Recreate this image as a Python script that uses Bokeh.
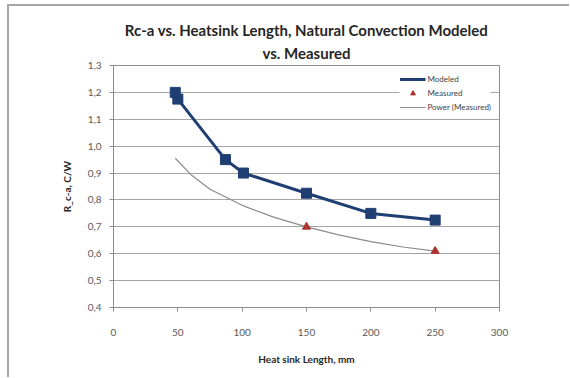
from bokeh.plotting import figure
from bokeh.models import FixedTicker, Range1d, Legend, LegendItem, Title
from bokeh.embed import file_html
from bokeh.resources import INLINE

# data
mod_x = [48, 50, 87, 101, 150, 200, 250]
mod_y = [1.20, 1.175, 0.95, 0.90, 0.825, 0.75, 0.725]
meas_x = [150, 250]
meas_y = [0.70, 0.61]
pow_x = [48, 60, 75, 100, 125, 150, 175, 200, 225, 250]
pow_y = [0.955, 0.895, 0.84, 0.78, 0.735, 0.70, 0.67, 0.645, 0.625, 0.61]
y_ticks = [0.4, 0.5, 0.6, 0.7, 0.8, 0.9, 1.0, 1.1, 1.2, 1.3]
y_labels = ["0,4", "0,5", "0,6", "0,7", "0,8", "0,9", "1,0", "1,1", "1,2", "1,3"]
x_ticks = [0, 50, 100, 150, 200, 250, 300]
title_lines = ["Rc-a vs. Heatsink Length, Natural Convection Modeled", "vs. Measured"]

FONT = "Lato"
GRID = "#a6a6a6"

p = figure(width=562, height=373, output_backend="svg", toolbar_location=None,
           x_range=Range1d(0, 300), y_range=Range1d(0.4, 1.3),
           min_border_left=104, min_border_right=72, min_border_top=59,
           min_border_bottom=72)
p.styles = {"margin-left": "7px", "margin-top": "4px",
            "border-top": "2px solid #a6a6a6", "border-left": "2px solid #a6a6a6"}

p.title = Title(text=title_lines[0], align="center", text_font=FONT,
                text_font_size="15px", text_font_style="bold",
                text_color="#262626", standoff=-3)
p.add_layout(Title(text=title_lines[1], align="center", text_font=FONT,
                   text_font_size="15px", text_font_style="bold",
                   text_color="#262626", standoff=8), "above")

p.outline_line_color = "#8c8c8c"
p.outline_line_width = 1
p.xgrid.visible = False
p.ygrid.grid_line_color = GRID
p.ygrid.grid_line_width = 1

p.yaxis.ticker = FixedTicker(ticks=y_ticks)
p.yaxis.major_label_overrides = {t: l for t, l in zip(y_ticks, y_labels)}
p.xaxis.ticker = FixedTicker(ticks=x_ticks)
for ax in (p.xaxis, p.yaxis):
    ax.axis_line_color = "#8c8c8c"
    ax.major_tick_line_color = "#8c8c8c"
    ax.major_tick_in = 0
    ax.major_tick_out = 4
    ax.minor_tick_line_color = None
    ax.major_label_text_font = FONT
    ax.major_label_text_font_size = "10px"
    ax.major_label_text_color = "#595959"
    ax.axis_label_text_font = FONT
    ax.axis_label_text_font_size = "10px"
    ax.axis_label_text_font_style = "bold"
    ax.axis_label_text_color = "#262626"
p.xaxis.axis_label = "Heat sink Length, mm"
p.yaxis.axis_label = "R_c-a, C/W"
p.xaxis.major_label_standoff = 17
p.xaxis.axis_label_standoff = 14
p.yaxis.major_label_standoff = 8
p.yaxis.axis_label_standoff = 12

r_pow = p.line(pow_x, pow_y, line_color="#8c8c8c", line_width=1.2)
r_mod_l = p.line(mod_x, mod_y, line_color="#1f3f73", line_width=3)
r_mod_m = p.scatter(mod_x, mod_y, marker="square", size=10, fill_color="#1f3f73",
                    line_color="#1f3f73")
r_meas = p.scatter(meas_x, meas_y, marker="triangle", size=8, fill_color="#b03030",
                   line_color="#b03030")

legend = Legend(items=[
    LegendItem(label="Modeled", renderers=[r_mod_l]),
    LegendItem(label="Measured", renderers=[r_meas]),
    LegendItem(label="Power (Measured)", renderers=[r_pow]),
], location="top_right", border_line_color=None, background_fill_alpha=1,
    label_text_font=FONT, label_text_font_size="8px", label_text_color="#404040",
    glyph_width=26, glyph_height=12, label_height=12, spacing=2, padding=4, margin=8,
    label_standoff=2)
p.add_layout(legend)

open("out.html", "w").write(file_html(p, INLINE))
